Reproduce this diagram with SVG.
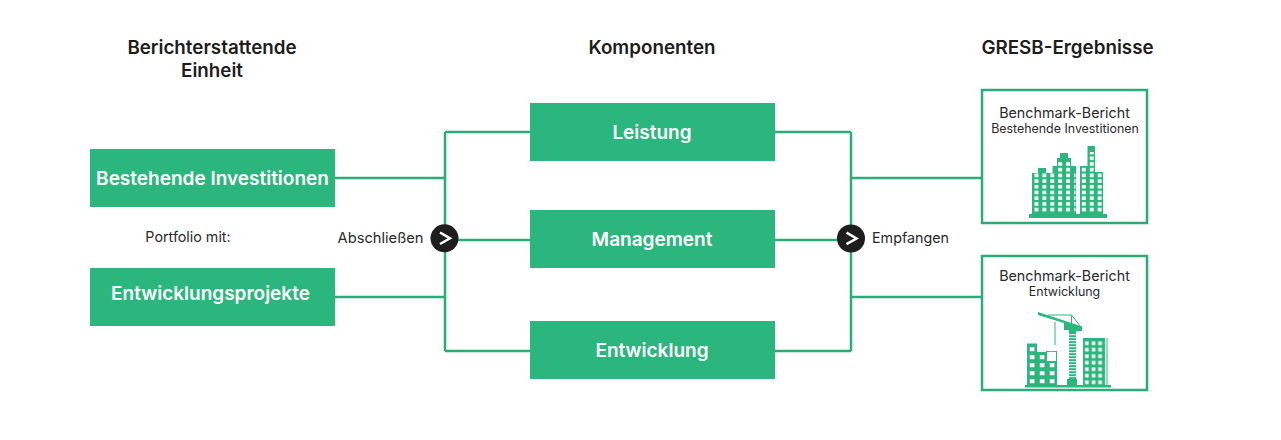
<svg xmlns="http://www.w3.org/2000/svg" width="1281" height="440" viewBox="0 0 1281 440">
<style>
text{font-family:"Inter","Liberation Sans",sans-serif;text-anchor:middle}
.h{font-size:18.800px;font-weight:600;fill:#1d1d1b}
.b{font-size:19px;font-weight:600;fill:#fff}
.l{font-size:14.300px;fill:#2a2a2a}
.s{font-size:12.400px;fill:#2a2a2a}
.box{fill:#2bb67d}
.card{fill:#fff;stroke:#2bab78;stroke-width:2.500}
.c{fill:none;stroke:#2bab78;stroke-width:2.500}
.g{fill:#2bb67d}
.t{fill:none;stroke:#2bb67d;stroke-width:1}
.v{fill:none;stroke:#fff;stroke-width:2.500}
</style>
<defs>
<pattern id="w1" width="7.900" height="5.700" patternUnits="userSpaceOnUse" x="1032.500" y="172.500"><rect x="2" y="1.100" width="3.900" height="3.500" fill="#fff"/></pattern>
<pattern id="w2" width="10" height="8" patternUnits="userSpaceOnUse" x="1027" y="345"><rect x="2.800" y="2" width="4.600" height="4.200" fill="#fff"/></pattern>
<pattern id="w3" width="6.600" height="6.500" patternUnits="userSpaceOnUse" x="1083.500" y="340"><rect x="1.600" y="1.400" width="3.600" height="3.600" fill="#fff"/></pattern>
<pattern id="m" width="3" height="3" patternUnits="userSpaceOnUse" x="1069" y="330"><rect x="0" y="1.200" width="3" height="1" fill="#fff"/></pattern>
</defs>
<g id="connectors">
<path class="c" d="M335 178H445M335 297H445M445 132V351M445 132H530M445 240H530M445 351H530"/>
<path class="c" d="M775 132H851M775 240H851M775 351H851M851 132V351M851 178H982M851 297H982"/>
</g>
<text class="h" x="212" y="54">Berichterstattende</text>
<text class="h" x="212" y="77">Einheit</text>
<text class="h" x="652" y="54">Komponenten</text>
<text class="h" x="1067.500" y="54">GRESB-Ergebnisse</text>
<g id="n-bestehend"><rect class="box" x="90" y="149" width="245" height="58"/><text class="b" x="212.500" y="185">Bestehende Investitionen</text></g>
<g id="n-entwicklungsprojekte"><rect class="box" x="90" y="268" width="245" height="58"/><text class="b" x="210.500" y="300">Entwicklungsprojekte</text></g>
<g id="n-portfolio"><text class="l" x="188" y="242">Portfolio mit:</text></g>
<g id="n-leistung"><rect class="box" x="530" y="103" width="245" height="58"/><text class="b" x="652" y="139">Leistung</text></g>
<g id="n-management"><rect class="box" x="530" y="210" width="245" height="58"/><text class="b" x="652" y="246">Management</text></g>
<g id="n-entwicklung"><rect class="box" x="530" y="321" width="245" height="58"/><text class="b" x="652" y="357">Entwicklung</text></g>
<g id="n-abschliessen"><text class="l" x="380.500" y="243" style="font-size:14.700px">Abschließen</text><circle cx="444.500" cy="238.300" r="14" fill="#1f1e1f"/><path class="v" d="M440 232.500L450 238.300L440 244"/></g>
<g id="n-empfangen"><circle cx="851" cy="238.500" r="14" fill="#1f1e1f"/><path class="v" d="M846.500 232.700L856.500 238.500L846.500 244.200"/><text class="l" x="910.500" y="243">Empfangen</text></g>
<g id="n-bericht-bestehend">
<rect class="card" x="982" y="90" width="165" height="133"/>
<text x="1064.500" y="118" class="l">Benchmark-Bericht</text>
<text x="1065" y="133" class="s">Bestehende Investitionen</text>
<path class="g" d="M1032 173H1038V168H1046V173H1052.500V166H1057V158H1060V153H1068V158H1071V166H1076V216H1032Z"/>
<path class="g" d="M1080 166H1087.500V146H1095V172H1103V216H1080Z"/>
<rect x="1032.500" y="172.500" width="43" height="40" fill="url(#w1)"/>
<rect x="1080.500" y="172.500" width="22" height="40" fill="url(#w1)"/>
<rect x="1057" y="161" width="14" height="11.500" fill="url(#w1)"/>
<rect x="1081" y="167" width="6" height="5.500" fill="url(#w1)"/>
<rect x="1088.500" y="152" width="6" height="20" fill="url(#w1)"/>
<rect class="g" x="1029" y="214" width="78" height="4"/>
</g>
<g id="n-bericht-entwicklung">
<rect class="card" x="982" y="256" width="165" height="134"/>
<text x="1064.500" y="281" class="l">Benchmark-Bericht</text>
<text x="1064.500" y="296" class="s">Entwicklung</text>
<path class="g" d="M1027 343.500H1037V352H1046.500V361H1057V385H1027Z"/>
<rect x="1046.500" y="351.500" width="10" height="10" fill="#fff" stroke="#2bb67d" stroke-width="1"/>
<rect x="1027" y="345" width="30" height="40" fill="url(#w2)"/>
<rect class="g" x="1083" y="338" width="22" height="47"/>
<rect x="1083.500" y="340" width="21" height="45" fill="url(#w3)"/>
<path class="t" d="M1107 338V385M1055 322V345"/>
<path class="g" d="M1038 312L1082 326.500V331H1074V333H1070V330H1064V323L1038 315Z"/>
<path class="t" d="M1071.500 315L1048 315M1071.500 315V324M1071.500 315L1081 327"/>
<rect class="g" x="1069" y="330" width="7" height="50"/>
<rect x="1069" y="334" width="7" height="45" fill="url(#m)"/>
<rect class="g" x="1067" y="379" width="10" height="6"/>
<rect class="g" x="1025" y="385" width="86" height="2.500"/>
</g>
</svg>
